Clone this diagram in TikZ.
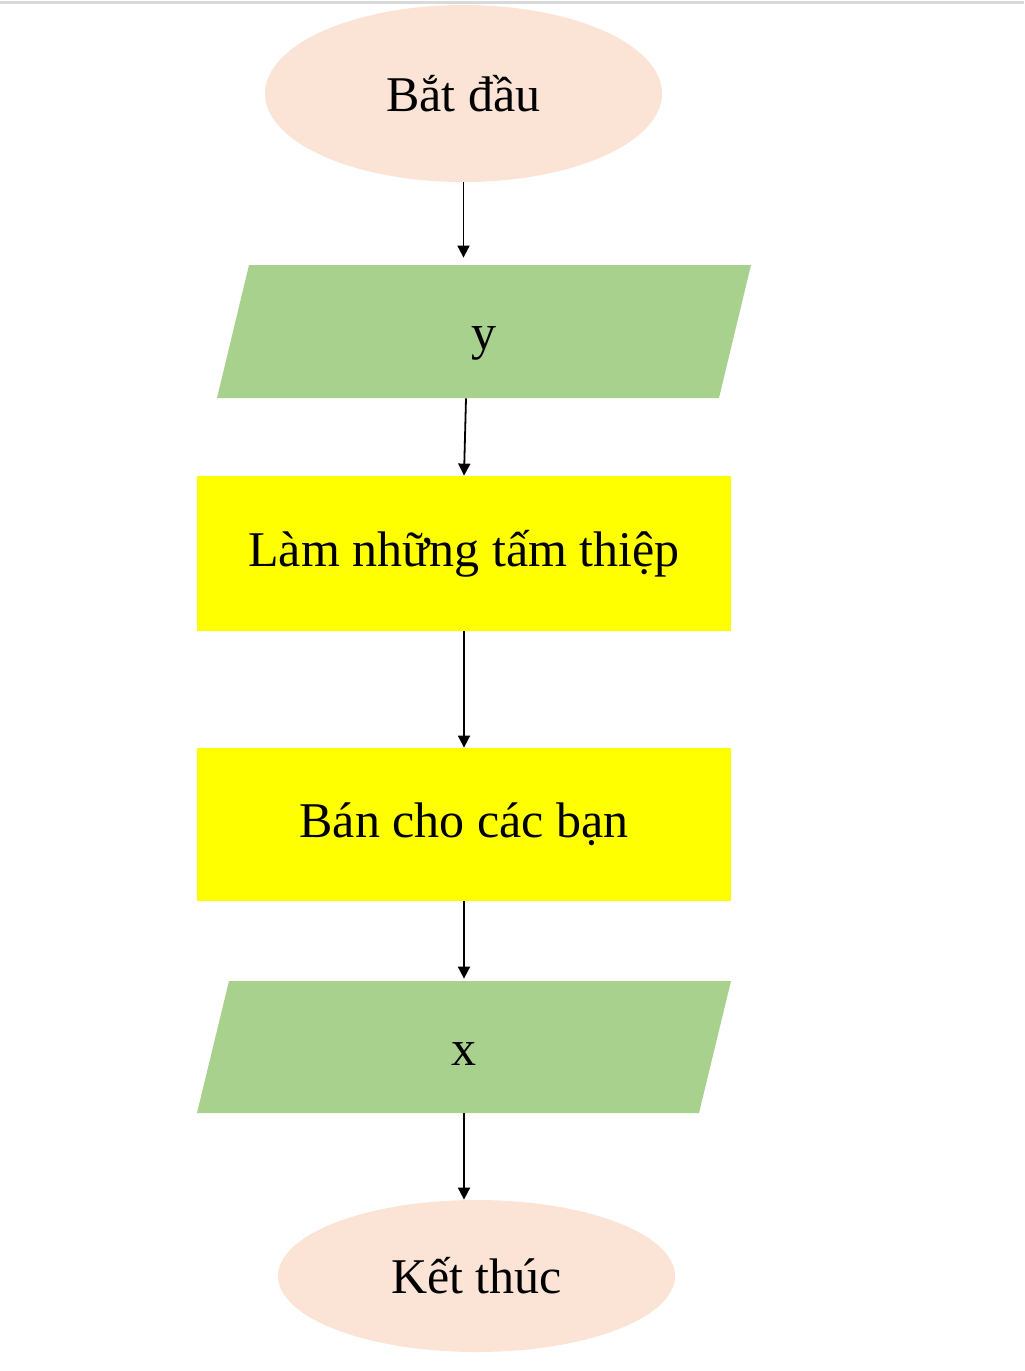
\documentclass[tikz,border=0pt]{standalone}
\usepackage{fontspec}
\setmainfont{Liberation Serif}
\usetikzlibrary{arrows.meta,shapes.geometric}
\definecolor{peach}{HTML}{FBE4D5}
\definecolor{leaf}{HTML}{A9D18E}
\definecolor{lemon}{HTML}{FFFF00}
\begin{document}
\begin{tikzpicture}[x=0.5pt,y=-0.5pt,>={Triangle[length=6pt,width=6pt]},
                terminal/.style={ellipse,fill=peach,minimum width=198.5pt,inner sep=0pt},
                inout/.style={rectangle,minimum width=267pt,minimum height=66.5pt,inner sep=0pt,
                    text height=23pt,text depth=5pt,
                    path picture={\fill[leaf] ([xshift=16pt]path picture bounding box.north west)
                        -- (path picture bounding box.north east)
                        -- ([xshift=-16pt]path picture bounding box.south east)
                        -- (path picture bounding box.south west) -- cycle;}},
                process/.style={rectangle,fill=lemon,minimum width=267pt,inner sep=0pt},
                every node/.style={font=\fontsize{25}{30}\selectfont},
                flow/.style={->,line width=0.9pt}]
                \useasboundingbox (0,0) rectangle (1024,1371);
                \draw[line width=1.5pt,color=black!15] (0,2.5) -- (1024,2.5);
                \node[terminal,minimum height=88.5pt] (start) at (463.5, 93.5) {Bắt đầu};
                \node[inout] (in1) at (484, 331.5) {y};
                \node[process,minimum height=77.5pt] (make) at (464, 553.5) {Làm những tấm thiệp};
                \node[process,minimum height=76.5pt] (sell) at (464, 824.5) {Bán cho các bạn};
                \node[inout,minimum height=66pt] (out1) at (464, 1047) {x};
                \node[terminal,minimum height=76pt] (stop) at (476.5, 1276) {Kết thúc};
                \draw[flow,shorten >=3.5pt] (start.south) -- (start.south |- in1.north);
                \draw[flow] ([xshift=-9pt]in1.south) -- (make.north);
                \draw[flow] (make.south) -- (sell.north);
                \draw[flow,shorten >=1pt] (sell.south) -- (sell.south |- out1.north);
                \draw[flow] (sell.south |- out1.south) -- (sell.south |- stop.north);
            \end{tikzpicture}
\end{document}
